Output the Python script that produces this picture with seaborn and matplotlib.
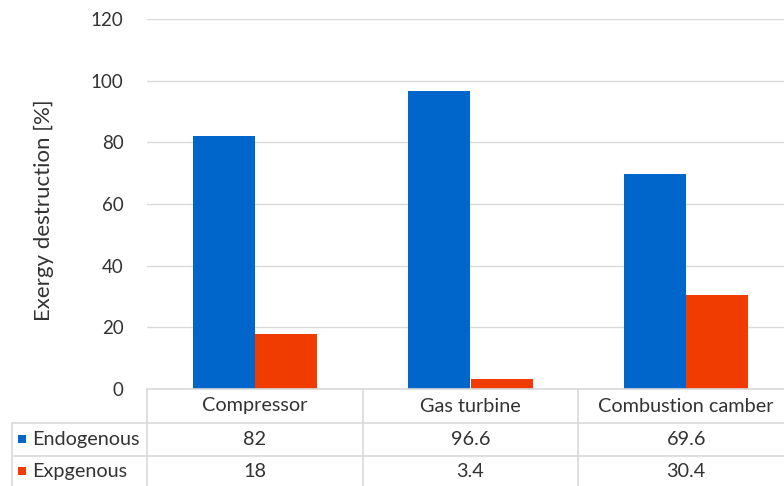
import matplotlib
matplotlib.use("Agg")
import matplotlib.pyplot as plt
import pandas as pd
import seaborn as sns
from matplotlib.transforms import blended_transform_factory
from matplotlib.patches import Rectangle
from matplotlib.lines import Line2D

# Data
components = ["Compressor", "Gas turbine", "Combustion camber"]
series_names = ["Endogenous", "Expgenous"]
endogenous = [82, 96.6, 69.6]
exogenous = [18, 3.4, 30.4]
y_ticks = [0, 20, 40, 60, 80, 100, 120]

colors = ["#0066CC", "#F03C00"]
TEXT = "#333333"
GRID = "#D9D9D9"
FS_TICK = 13.5
FS_TABLE = 14.3
FS_LABEL = 16

sns.set_theme(style="white")
plt.rcParams["font.family"] = ["Lato", "DejaVu Sans"]

W, H = 784, 486
fig = plt.figure(figsize=(W / 100, H / 100), dpi=100)


def fx(px):
    return px / W


def fy(py):
    return 1 - py / H


ax = fig.add_axes([fx(147), fy(389), fx(794) - fx(147), fy(19) - fy(389)])

df = pd.DataFrame({
    "Component": components * 2,
    "Series": [series_names[0]] * len(components) + [series_names[1]] * len(components),
    "Value": endogenous + exogenous,
})
sns.barplot(data=df, x="Component", y="Value", hue="Series",
            order=components, hue_order=series_names, palette=colors,
            width=0.575, gap=0, saturation=1, linewidth=0, ax=ax, legend=False)

ax.set_xlim(-0.5, len(components) - 0.5)
ax.set_ylim(0, 120)
ax.set_yticks(y_ticks)
ax.yaxis.grid(True, color=GRID, lw=1)
ax.set_axisbelow(True)
for s in ax.spines.values():
    s.set_visible(False)
ax.set_xticks([])
ax.set_xlabel("")
ax.set_ylabel("")
ax.tick_params(axis="y", length=0, pad=17, labelsize=FS_TICK, labelcolor=TEXT)

fig.text(fx(44), fy(210), "Exergy destruction [%]", rotation=90,
         ha="center", va="center", fontsize=FS_LABEL, color=TEXT)

# Data table beneath the axes
tr = blended_transform_factory(ax.transData, fig.transFigure)
line_kw = dict(color=GRID, lw=1.2)

fig.add_artist(Line2D([fx(147), 1.0], [fy(389), fy(389)], transform=fig.transFigure, **line_kw))
for yy in (423, 456):
    fig.add_artist(Line2D([fx(12), 1.0], [fy(yy), fy(yy)], transform=fig.transFigure, **line_kw))
fig.add_artist(Line2D([fx(12), fx(12)], [fy(423), 0], transform=fig.transFigure, **line_kw))
fig.add_artist(Line2D([fx(147), fx(147)], [fy(389), 0], transform=fig.transFigure, **line_kw))
for i in range(len(components) - 1):
    fig.add_artist(Line2D([i + 0.5, i + 0.5], [fy(389), 0], transform=tr, **line_kw))

for i, name in enumerate(components):
    fig.text(i, fy(406), name, transform=tr, ha="center", va="center",
             fontsize=FS_TABLE, color=TEXT)

rows = [endogenous, exogenous]
row_y = [439, 471]
for name, vals, col, yy in zip(series_names, rows, colors, row_y):
    fig.add_artist(Rectangle((fx(18), fy(yy + 4)), fx(8), 8 / H,
                             transform=fig.transFigure, color=col, lw=0))
    fig.text(fx(32), fy(yy), name, ha="left", va="center", fontsize=FS_TABLE, color=TEXT)
    for i, v in enumerate(vals):
        fig.text(i, fy(yy), f"{v:g}", transform=tr, ha="center", va="center",
                 fontsize=FS_TABLE, color=TEXT)

fig.savefig("out.png", dpi=100)
